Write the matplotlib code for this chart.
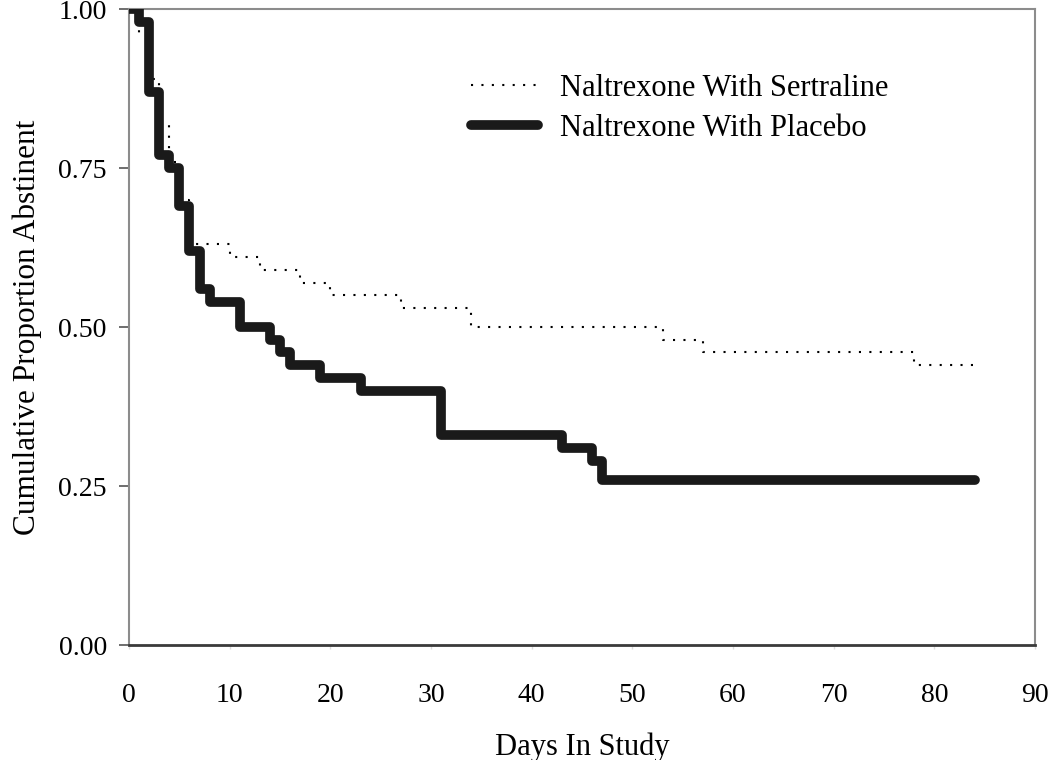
import matplotlib
matplotlib.use("Agg")
import matplotlib.pyplot as plt

plt.rcParams['font.family'] = ['Liberation Serif', 'DejaVu Serif']

# Kaplan-Meier style step data
days_sert = [0, 1, 2, 3, 4, 5, 6, 10, 13, 17, 20, 27, 34, 53, 57, 78, 84]
surv_sert = [1.00, 0.96, 0.89, 0.82, 0.76, 0.70, 0.63, 0.61, 0.59, 0.57, 0.55,
             0.53, 0.50, 0.48, 0.46, 0.44, 0.44]

days_plac = [0, 1, 2, 3, 4, 5, 6, 7, 8, 11, 14, 15, 16, 19, 23, 31, 43, 46, 47, 84]
surv_plac = [1.00, 0.98, 0.87, 0.77, 0.75, 0.69, 0.62, 0.56, 0.54, 0.50, 0.48,
             0.46, 0.44, 0.42, 0.40, 0.33, 0.31, 0.29, 0.26, 0.26]

x_ticks = [0, 10, 20, 30, 40, 50, 60, 70, 80, 90]
y_ticks = [0.00, 0.25, 0.50, 0.75, 1.00]

fig = plt.figure(figsize=(10.5, 7.6), dpi=100)
ax = fig.add_axes([0.1229, 0.1513, 0.8628, 0.8368])

ax.step(days_sert, surv_sert, where='post', color='black', linewidth=1.5,
        linestyle=(0, (1, 4)), label='Naltrexone With Sertraline', zorder=2)
ax.step(days_plac, surv_plac, where='post', color='#1a1a1a', linewidth=7,
        solid_capstyle='round', solid_joinstyle='round',
        label='Naltrexone With Placebo', zorder=3)

ax.set_xlim(0, 90)
ax.set_ylim(0, 1.0)
ax.set_xticks(x_ticks)
ax.set_yticks(y_ticks)
ax.set_yticklabels([f"{v:.2f}" for v in y_ticks])

for side in ['top', 'left', 'right']:
    ax.spines[side].set_color('#8c8c8c')
    ax.spines[side].set_linewidth(1.5)
ax.spines['bottom'].set_color('#3a3a3a')
ax.spines['bottom'].set_linewidth(2)

ax.tick_params(axis='y', direction='out', length=7, width=1.2, color='#555555',
               labelsize=20, pad=9)
ax.tick_params(axis='x', direction='out', length=3, width=1, color='#dddddd',
               labelsize=20, pad=24)

ax.set_xlabel('Days In Study', fontsize=22, labelpad=18)
ax.set_ylabel('Cumulative Proportion Abstinent', fontsize=22.5, labelpad=12)

ax.legend(loc='upper left', bbox_to_anchor=(0.347, 0.941), frameon=False,
          fontsize=22, handlelength=2.2, handletextpad=0.7, labelspacing=0.35)

fig.savefig('out.png', dpi=100)
